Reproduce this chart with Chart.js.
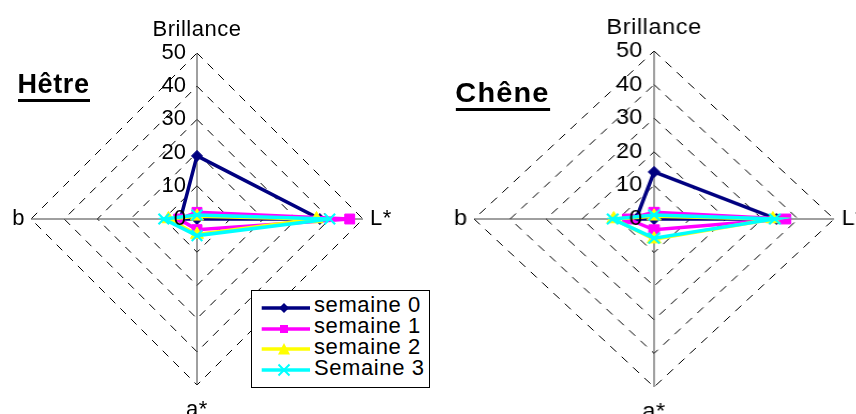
<!DOCTYPE html>
<html><head><meta charset="utf-8">
<script src="https://cdn.jsdelivr.net/npm/chart.js@4.4.0/dist/chart.umd.min.js"></script>
<style>
html,body{margin:0;padding:0;background:#fff;overflow:hidden;width:856px;height:414px;}
body{position:relative;font-family:"Liberation Sans",Arial,sans-serif;color:#000;}
#left{position:absolute;left:0;top:0;width:428px;height:414px;}
#right{position:absolute;left:428px;top:0;width:400px;height:414px;transform:scaleX(1.0714);transform-origin:0 0;}
canvas{position:absolute;left:0;top:0;}
.title{position:absolute;font-weight:bold;font-size:27px;line-height:27px;border-bottom:3px solid #000;white-space:nowrap;}
#t1{left:17.5px;top:70.5px;letter-spacing:0.6px;padding-bottom:1.5px;}
#t2{left:25.5px;top:80px;letter-spacing:1.1px;padding-bottom:0.5px;}
#legend{position:absolute;left:251px;top:290px;width:177px;height:96px;border:1px solid #000;background:#fff;z-index:5;}
.row{position:absolute;left:0;width:177px;height:0;}
.row svg{position:absolute;left:8px;top:-8px;}
.row span{position:absolute;left:62px;top:-13.6px;font-size:22px;line-height:22px;letter-spacing:0.6px;white-space:nowrap;}
</style></head>
<body>
<div id="left"><canvas id="c1" width="428" height="414"></canvas><div class="title" id="t1">Hêtre</div></div>
<div id="right"><canvas id="c2" width="400" height="414"></canvas><div class="title" id="t2">Chêne</div></div>
<div id="legend"></div>
<script>
// ---- data ----
const axisLabels = ['Brillance', 'L*', 'a*', 'b'];
const seriesNames = ['semaine 0', 'semaine 1', 'semaine 2', 'Semaine 3'];
const tickLabels = ['0', '10', '20', '30', '40', '50'];

const hetreSemaine0 = [19, 37, 0, 5];
const hetreSemaine1 = [2, 46, 3.2, 5.5];
const hetreSemaine2 = [0.8, 36, 4.7, 8.6];
const hetreSemaine3 = [1.2, 40, 5, 10];

const cheneSemaine0 = [14, 34, 0, 5];
const cheneSemaine1 = [2, 36.5, 3.2, 7.3];
const cheneSemaine2 = [0.8, 33, 6, 11.2];
const cheneSemaine3 = [1.2, 33.5, 5.7, 11.5];

// ---- styles ----
const colors = ['#000080', '#FF00FF', '#FFFF00', '#00FFFF'];
const pStyles = ['rectRot', 'rect', 'triangle', 'crossRot'];
const pRadius = [5.5, 7, 7.5, 7.5];

function makeDatasets(series) {
  return series.map((vals, k) => ({
    label: seriesNames[k],
    data: vals,
    borderColor: colors[k],
    backgroundColor: colors[k],
    pointBackgroundColor: colors[k],
    pointBorderColor: colors[k],
    pointStyle: pStyles[k],
    pointRadius: pRadius[k],
    pointBorderWidth: k === 3 ? 2.2 : 1,
    borderWidth: 3.5,
    fill: false,
    tension: 0,
    order: 3 - k
  }));
}

const textPlugin = {
  id: 'radarText',
  afterDatasetsDraw(chart) {
    const s = chart.scales.r, ctx = chart.ctx, R = s.drawingArea;
    ctx.save();
    ctx.fillStyle = '#000';
    ctx.font = '22px "Liberation Sans", Arial, sans-serif';
    ctx.textAlign = 'right';
    ctx.textBaseline = 'middle';
    s.ticks.forEach(t => {
      const p = s.getPointPositionForValue(0, t.value);
      ctx.fillText(t.label, p.x - 11, p.y);
    });
    ctx.letterSpacing = '0.5px';
    const pads = [17.5, 7, 30.5, 6];
    const aligns = ['center', 'left', 'center', 'right'];
    const bases = ['alphabetic', 'middle', 'alphabetic', 'middle'];
    chart.data.labels.forEach((lab, i) => {
      const p = s.getPointPosition(i, R + pads[i]);
      ctx.textAlign = aligns[i];
      ctx.textBaseline = bases[i];
      ctx.fillText(lab, p.x, p.y);
    });
    ctx.restore();
  }
};

function makeChart(id, series, padding) {
  return new Chart(document.getElementById(id), {
    type: 'radar',
    data: { labels: axisLabels, datasets: makeDatasets(series) },
    options: {
      responsive: false,
      animation: false,
      devicePixelRatio: 1,
      layout: { padding: padding },
      plugins: { legend: { display: false }, tooltip: { enabled: false } },
      scales: {
        r: {
          min: 0, max: 50,
          ticks: { stepSize: 10, display: false, callback: (v, i) => tickLabels[i] },
          pointLabels: { display: false },
          grid: { color: '#000', lineWidth: 1 },
          border: { dash: [8, 7] },
          angleLines: { color: '#404040', lineWidth: 1 }
        }
      }
    },
    plugins: [textPlugin]
  });
}

makeChart('c1', [hetreSemaine0, hetreSemaine1, hetreSemaine2, hetreSemaine3], { left: 31, right: 65, top: 53, bottom: 29 });
makeChart('c2', [cheneSemaine0, cheneSemaine1, cheneSemaine2, cheneSemaine3], { left: 43, right: 21, top: 51, bottom: 27 });

// ---- legend ----
const legend = document.getElementById('legend');
const rowCenters = [16.7, 37.5, 58.3, 79.1];
function markerSvg(k) {
  const c = colors[k], cx = 24, cy = 8;
  let m = '';
  if (k === 0) m = `<polygon points="${cx},${cy-5} ${cx+5},${cy} ${cx},${cy+5} ${cx-5},${cy}" fill="${c}"/>`;
  if (k === 1) m = `<rect x="${cx-4}" y="${cy-4}" width="8" height="8" fill="${c}"/>`;
  if (k === 2) m = `<polygon points="${cx},${cy-6} ${cx+6},${cy+5.5} ${cx-6},${cy+5.5}" fill="${c}"/>`;
  if (k === 3) m = `<path d="M${cx-5.5} ${cy-5.5}L${cx+5.5} ${cy+5.5}M${cx+5.5} ${cy-5.5}L${cx-5.5} ${cy+5.5}" stroke="${c}" stroke-width="2"/>`;
  return `<svg width="52" height="16" viewBox="0 0 52 16"><line x1="1.7" y1="8" x2="50" y2="8" stroke="${c}" stroke-width="3.5"/>${m}</svg>`;
}
seriesNames.forEach((n, k) => {
  const row = document.createElement('div');
  row.className = 'row';
  row.style.top = rowCenters[k] + 'px';
  row.innerHTML = markerSvg(k) + `<span>${n}</span>`;
  legend.appendChild(row);
});
</script>
</body></html>
